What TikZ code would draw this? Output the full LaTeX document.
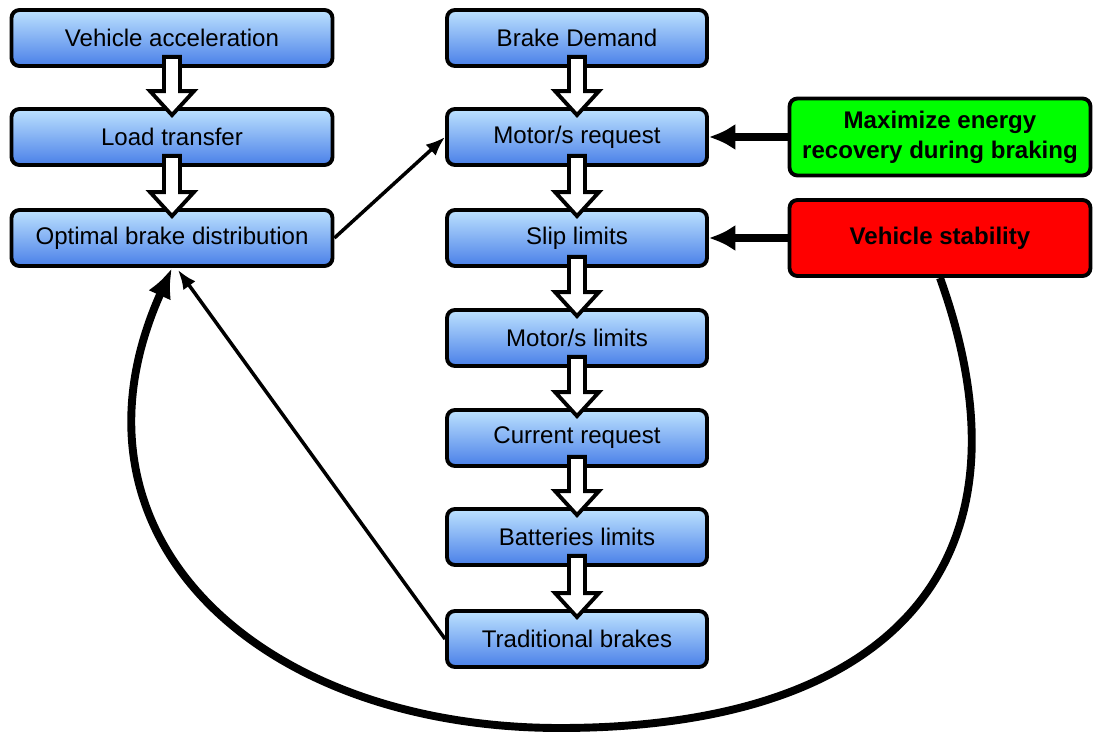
\documentclass[tikz,border=0pt]{standalone}
\usepackage{fontspec}
\setmainfont{Liberation Sans}
\usetikzlibrary{arrows.meta,calc}

\definecolor{boxtop}{HTML}{BDE2FF}
\definecolor{boxbottom}{HTML}{4A80E8}

\tikzset{
  stage/.style={draw, line width=2.2pt, rounded corners=4.5pt, top color=boxtop, bottom color=boxbottom,
    inner sep=0pt, minimum height=1.12cm, font=\fontsize{13.7}{16}\selectfont},
  leftstage/.style={stage, minimum width=6.42cm},
  midstage/.style={stage, minimum width=5.2cm},
  goal/.style={draw, line width=2.2pt, rounded corners=4.5pt, inner sep=0pt, minimum width=6.02cm,
    align=center, font=\fontsize{13.7}{17}\selectfont\bfseries},
  hollow/.style={draw, line width=2.2pt, fill=white, miter limit=10},
  thinarrow/.style={line width=2pt, -{Latex[length=11pt,width=8.5pt]}},
  fatline/.style={line width=4.6pt, -{Latex[length=15pt,width=15pt]}},
  loopline/.style={line width=4.5pt, -{Latex[length=17pt,width=14pt]}}
}

\newcommand{\hollowarrow}[2]{%
  \draw[hollow] ($(#1.south)+(-8,-11)$) -- ($(#2.north)+(-8,-16)$) -- ++(-14,0)
    -- ($(#2.north)+(0,8)$) -- ($(#2.north)+(22,-16)$) -- ++(-14,0)
    -- ($(#1.south)+(8,-11)$) -- cycle;}

\begin{document}
\begin{tikzpicture}[x=0.02cm, y=-0.02cm]
\useasboundingbox (0,0) rectangle (1095,736);

\node[leftstage] (accel) at (172,38) {Vehicle acceleration};
\node[leftstage] (load) at (172,137) {Load transfer};
\node[leftstage] (optim) at (172,238) {Optimal brake distribution};

\node[midstage] (demand) at (577,38) {Brake Demand};
\node[midstage] (motreq) at (577,137) {Motor/s request};
\node[midstage] (slip) at (577,238) {Slip limits};
\node[midstage] (motlim) at (577,338) {Motor/s limits};
\node[midstage] (curreq) at (577,438) {Current request};
\node[midstage] (batt) at (577,537) {Batteries limits};
\node[midstage] (trad) at (577,639) {Traditional brakes};

\node[goal, fill=green, minimum height=1.54cm] (energy) at (940,137) {Maximize energy\\recovery during braking};
\node[goal, fill=red, minimum height=1.52cm] (stab) at (940,238) {Vehicle stability};

\hollowarrow{accel}{load}
\hollowarrow{load}{optim}
\hollowarrow{demand}{motreq}
\hollowarrow{motreq}{slip}
\hollowarrow{slip}{motlim}
\hollowarrow{motlim}{curreq}
\hollowarrow{curreq}{batt}
\hollowarrow{batt}{trad}

\draw[thinarrow] (optim.east) -- (motreq.west);
\draw[thinarrow] (trad.west) -- ($(optim.south)+(6,2)$);

\draw[fatline] (energy.west) -- (motreq.east);
\draw[fatline] (stab.west) -- (slip.east);

\coordinate (bottom) at (560,728);
\draw[loopline] (stab.south) .. controls (1043,565) and (890,728) .. (bottom)
  .. controls (260,728) and (51,537) .. (optim.south);
\end{tikzpicture}
\end{document}
